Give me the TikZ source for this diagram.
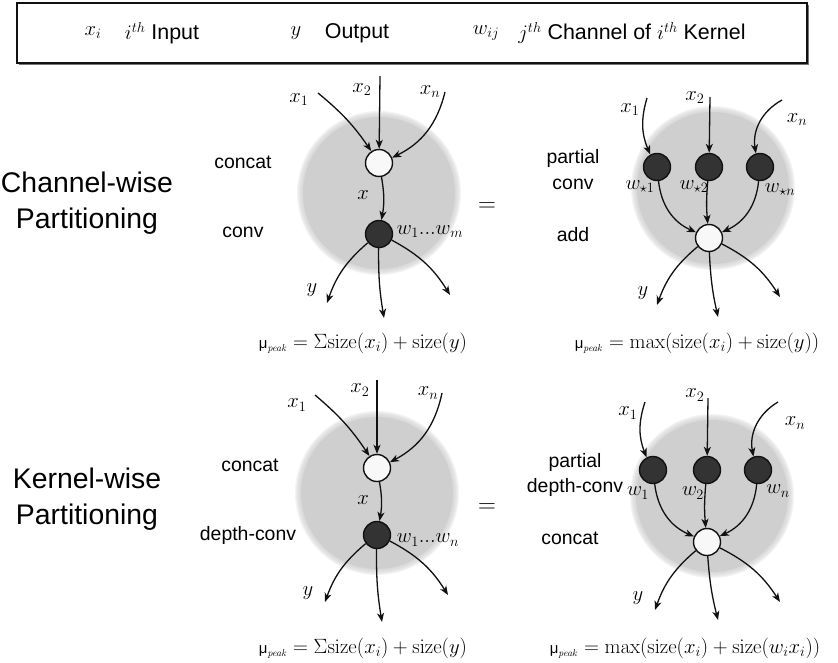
\documentclass[tikz,border=0pt]{standalone}
\usepackage{amsmath}
\usepackage[no-math]{fontspec}
\setmainfont{Liberation Sans}
\usetikzlibrary{arrows.meta, positioning, calc}
\definecolor{ink}{HTML}{111111}
\definecolor{blobgray}{HTML}{CFCFCF}
\definecolor{convfill}{HTML}{333333}
\definecolor{opfill}{HTML}{F8F8F8}
\definecolor{boxshade}{HTML}{777777}
\newcommand{\mupeak}{{\fontsize{15}{18}\selectfont μ}$_{\scriptscriptstyle\mathit{peak}}$}
\tikzset{
  opnode/.style   = {circle, draw=ink, line width=1.4bp, fill=opfill,
                      minimum size=27bp, inner sep=0pt},
  convnode/.style = {circle, draw=ink, line width=1.4bp, fill=convfill,
                      minimum size=27bp, inner sep=0pt},
  flow/.style     = {-{Stealth[length=9bp, width=7bp, inset=2.5bp]}, line width=1.3bp, draw=ink},
  oplabel/.style  = {font=\fontsize{19.5}{26}\selectfont, align=center, inner sep=0pt},
  title/.style    = {font=\fontsize{28.5}{36}\selectfont, align=center, inner sep=0pt},
  var/.style      = {font=\fontsize{22}{24}\selectfont, inner sep=0pt},
  memeq/.style    = {font=\fontsize{20.5}{24}\selectfont, inner sep=0pt},
  legend/.style   = {font=\fontsize{21.5}{24}\selectfont, inner sep=0pt},
  equal/.style    = {font=\fontsize{27}{30}\selectfont, inner sep=0pt},
}

\begin{document}
\begin{tikzpicture}[x=1bp, y=-1bp]
  \useasboundingbox (0,0) rectangle (838,663);

  % legend
  \fill[boxshade] (19,5) rectangle (809,65);
  \draw[ink, line width=1.3bp, fill=white] (17,3) rectangle (807,63);
  \node[legend] (legx)  at (93,33)  {$x_i$};
  \node[legend] (legxt) at (162,33) {$i^{th}$ Input};
  \node[legend] (legy)  at (296,33) {$y$};
  \node[legend] (legyt) at (357,33) {Output};
  \node[legend] (legw)  at (486,33) {$w_{ij}$};
  \node[legend] (legwt) at (632,33) {$j^{th}$ Channel of $i^{th}$ Kernel};

  % gray blobs with soft rim
  \foreach \cx/\cy in {379/193, 713/188, 377/493, 712/496} {
    \foreach \d in {6,5,4,3,2,1}
      \fill[blobgray, opacity=0.22] (\cx,\cy) circle[radius={(76+\d)*1bp}];
    \fill[blobgray] (\cx,\cy) circle[radius=76bp];
  }

  % row titles
  \node[title] (chtitle) at (87,203) {Channel-wise\\Partitioning};
  \node[title] (kntitle) at (87,499) {Kernel-wise\\Partitioning};
  \node[equal] (eqA) at (487,207) {$=$};
  \node[equal] (eqB) at (487,508) {$=$};

  % channel-wise, full conv
  \node[opnode]   (catA)  at (379,163) {};
  \node[convnode] (convA) at (379,234) {};
  \node[oplabel] (catAl)  at (243,162) {concat};
  \node[oplabel] (convAl) at (243,232) {conv};
  \coordinate (inA1) at (318,93);
  \coordinate (inA2) at (380,76);
  \coordinate (inAn) at (445,92);
  \coordinate (outA1) at (327,303);
  \coordinate (outA2) at (384,318);
  \coordinate (outAn) at (450,295);
  \draw[flow] (inA1) to[bend left=8] (catA);
  \draw[flow] (inA2) -- (catA);
  \draw[flow] (inAn) to[bend left=25] (catA);
  \draw[flow] (catA) to[bend left=10] (convA);
  \draw[flow] (convA) to[bend right=15] (outA1);
  \draw[flow] (convA) to[bend right=5] (outA2);
  \draw[flow] (convA) to[bend left=15] (outAn);
  \node[var] at (299,100) {$x_1$};
  \node[var] at (362,90)  {$x_2$};
  \node[var] at (430,92)  {$x_n$};
  \node[var] at (363,195) {$x$};
  \node[var] at (430,232) {$w_1 ... w_m$};
  \node[var] at (312,290) {$y$};
  \node[memeq] (memA) at (363,343) {\mupeak\ $= \Sigma\mathrm{size}(x_i) + \mathrm{size}(y)$};

  % channel-wise, partial conv
  \node[convnode] (pcA1) at (657,167) {};
  \node[convnode] (pcA2) at (709,167) {};
  \node[convnode] (pcAn) at (760,167) {};
  \node[opnode]   (addA) at (709,238) {};
  \node[oplabel] (pcAl)  at (573,170) {partial\\conv};
  \node[oplabel] (addAl) at (573,235) {add};
  \coordinate (inB1) at (647,98);
  \coordinate (inB2) at (710,97);
  \coordinate (inBn) at (782,100);
  \coordinate (outB1) at (657,305);
  \coordinate (outB2) at (718,317);
  \coordinate (outBn) at (780,297);
  \draw[flow] (inB1) to[bend right=20] (pcA1);
  \draw[flow] (inB2) -- (pcA2);
  \draw[flow] (inBn) to[bend right=35] (pcAn);
  \draw[flow] (pcA1) to[bend right=30] (addA);
  \draw[flow] (pcA2) to[bend right=5] (addA);
  \draw[flow] (pcAn) to[bend left=30] (addA);
  \draw[flow] (addA) to[bend right=15] (outB1);
  \draw[flow] (addA) to[bend right=5] (outB2);
  \draw[flow] (addA) to[bend left=15] (outBn);
  \node[var] at (630,110) {$x_1$};
  \node[var] at (695,98)  {$x_2$};
  \node[var] at (797,120) {$x_n$};
  \node[var] at (640,187) {$w_{\star 1}$};
  \node[var] at (694,187) {$w_{\star 2}$};
  \node[var] at (780,190) {$w_{\star n}$};
  \node[var] at (643,293) {$y$};
  \node[memeq] (memB) at (697,343) {\mupeak\ $= \max(\mathrm{size}(x_i) + \mathrm{size}(y))$};

  % kernel-wise, full depth-conv
  \node[opnode]   (catC)  at (377,468) {};
  \node[convnode] (convC) at (377,535) {};
  \node[oplabel] (catCl)  at (250,465) {concat};
  \node[oplabel] (convCl) at (248,535) {depth-conv};
  \coordinate (inC1) at (315,395);
  \coordinate (inC2) at (377,380);
  \coordinate (inCn) at (442,393);
  \coordinate (outC1) at (325,602);
  \coordinate (outC2) at (382,622);
  \coordinate (outCn) at (448,595);
  \draw[flow] (inC1) to[bend left=8] (catC);
  \draw[flow] (inC2) -- (catC);
  \draw[flow] (inCn) to[bend left=25] (catC);
  \draw[flow] (catC) to[bend left=10] (convC);
  \draw[flow] (convC) to[bend right=15] (outC1);
  \draw[flow] (convC) to[bend right=5] (outC2);
  \draw[flow] (convC) to[bend left=15] (outCn);
  \node[var] at (297,405) {$x_1$};
  \node[var] at (360,390) {$x_2$};
  \node[var] at (428,393) {$x_n$};
  \node[var] at (363,500) {$x$};
  \node[var] at (428,540) {$w_1 ... w_n$};
  \node[var] at (308,593) {$y$};
  \node[memeq] (memC) at (363,648) {\mupeak\ $= \Sigma\mathrm{size}(x_i) + \mathrm{size}(y)$};

  % kernel-wise, partial depth-conv
  \node[convnode] (pdC1) at (653,470) {};
  \node[convnode] (pdC2) at (707,470) {};
  \node[convnode] (pdCn) at (758,470) {};
  \node[opnode]   (catD) at (707,542) {};
  \node[oplabel] (pdCl)  at (575,475) {partial\\depth-conv};
  \node[oplabel] (catDl) at (570,538) {concat};
  \coordinate (inD1) at (645,402);
  \coordinate (inD2) at (708,398);
  \coordinate (inDn) at (778,402);
  \coordinate (outD1) at (655,610);
  \coordinate (outD2) at (718,620);
  \coordinate (outDn) at (780,602);
  \draw[flow] (inD1) to[bend right=20] (pdC1);
  \draw[flow] (inD2) -- (pdC2);
  \draw[flow] (inDn) to[bend right=35] (pdCn);
  \draw[flow] (pdC1) to[bend right=30] (catD);
  \draw[flow] (pdC2) to[bend right=5] (catD);
  \draw[flow] (pdCn) to[bend left=30] (catD);
  \draw[flow] (catD) to[bend right=15] (outD1);
  \draw[flow] (catD) to[bend right=5] (outD2);
  \draw[flow] (catD) to[bend left=15] (outDn);
  \node[var] at (628,413) {$x_1$};
  \node[var] at (695,395) {$x_2$};
  \node[var] at (795,423) {$x_n$};
  \node[var] at (638,493) {$w_1$};
  \node[var] at (693,493) {$w_2$};
  \node[var] at (778,491) {$w_n$};
  \node[var] at (638,598) {$y$};
  \node[memeq] (memD) at (685,648) {\mupeak\ $= \max(\mathrm{size}(x_i) + \mathrm{size}(w_i x_i))$};
\end{tikzpicture}
\end{document}
